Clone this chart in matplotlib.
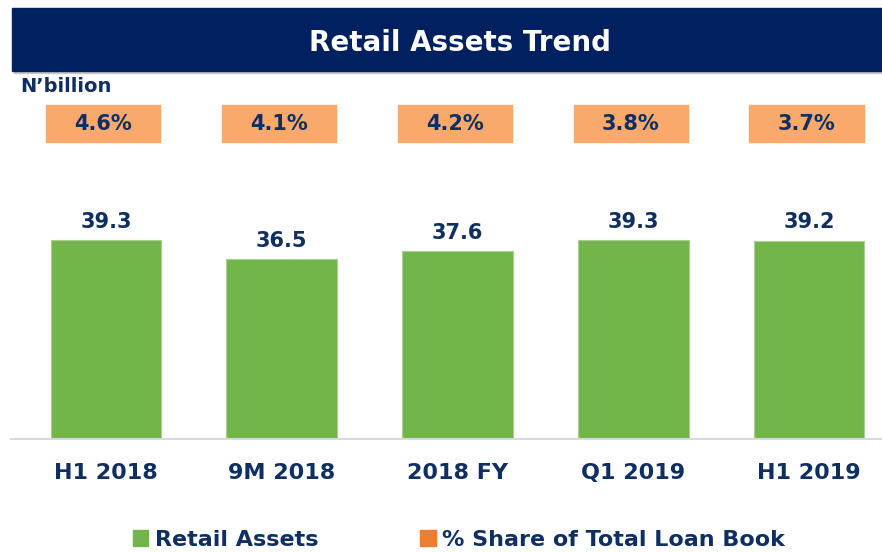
import matplotlib.pyplot as plt
import matplotlib.transforms as mtransforms
from matplotlib.patches import Rectangle, Patch

categories = ['H1 2018', '9M 2018', '2018 FY', 'Q1 2019', 'H1 2019']
retail_assets = [39.3, 36.5, 37.6, 39.3, 39.2]
loan_share = [4.6, 4.1, 4.2, 3.8, 3.7]

navy = '#0f2f63'
green = '#72b54b'
orange_box = '#f9a96b'
orange_leg = '#ed7d31'

plt.rcParams['font.family'] = ['DejaVu Sans']

fig = plt.figure(figsize=(8.82, 5.52), dpi=100)

# header band
fig.patches.append(Rectangle((14 / 882, 1 - 73 / 552), 1, 64 / 552, transform=fig.transFigure,
                             color='#c8c8c8', zorder=0))
fig.patches.append(Rectangle((12 / 882, 1 - 71 / 552), 1, 63 / 552, transform=fig.transFigure,
                             color='#002060', zorder=1))
fig.text(460 / 882, 1 - 43 / 552, 'Retail Assets Trend', color='white', fontsize=20,
         fontweight='bold', ha='center', va='center')
fig.text(20 / 882, 1 - 87 / 552, 'N\u2019billion', color=navy, fontsize=14,
         fontweight='bold', ha='left', va='center')

ax = fig.add_axes([11 / 882, 113 / 552, 871 / 882, 339 / 552])
x = range(len(categories))
bars = ax.bar(x, retail_assets, width=0.63, color=green, edgecolor='#a9d08e', linewidth=0.8)
ax.set_xlim(-0.54, 4.415)
ax.set_ylim(10, 59.9)

for b, v in zip(bars, retail_assets):
    ax.annotate(f'{v:.1f}', (b.get_x() + b.get_width() / 2, v), xytext=(0, 6),
                textcoords='offset points', ha='center', va='bottom',
                color=navy, fontsize=15, fontweight='bold')

# % share boxes
trans = mtransforms.blended_transform_factory(ax.transData, ax.transAxes)
for i, s in enumerate(loan_share):
    ax.add_patch(Rectangle((i - 0.34, 0.876), 0.65, 0.11, transform=trans,
                           color=orange_box, clip_on=False))
    ax.text(i - 0.015, 0.93, f'{s:.1f}%', transform=trans, ha='center', va='center',
            color=navy, fontsize=15, fontweight='bold')

ax.set_xticks(list(x))
ax.set_xticklabels(categories, color=navy, fontsize=16, fontweight='bold')
ax.tick_params(axis='x', length=0, pad=17)
ax.set_yticks([])
for side in ['top', 'right', 'left']:
    ax.spines[side].set_visible(False)
ax.spines['bottom'].set_color('#d9d9d9')
ax.spines['bottom'].set_linewidth(1.5)

handles = [Patch(color=green, label='Retail Assets'),
           Patch(color=orange_leg, label='% Share of Total Loan Book')]
leg = fig.legend(handles=handles, loc='center', bbox_to_anchor=(459 / 882, 1 - 540 / 552),
                 ncol=2, frameon=False, handlelength=0.68, handleheight=0.75,
                 handletextpad=0.3, columnspacing=4.6,
                 prop={'size': 16, 'weight': 'bold'})
for t in leg.get_texts():
    t.set_color(navy)

fig.savefig('out.png', dpi=100)
